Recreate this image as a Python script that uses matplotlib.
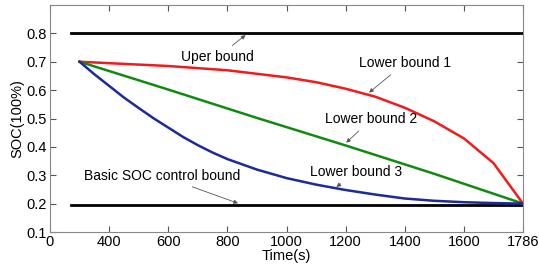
import matplotlib
matplotlib.use("Agg")
import matplotlib.pyplot as plt

plt.rcParams['font.family'] = ['Liberation Sans', 'DejaVu Sans']

# Data
t_bound = [270, 1800]
upper = [0.8, 0.8]
basic = [0.195, 0.195]

t1 = [300, 400, 600, 800, 1000, 1100, 1200, 1300, 1400, 1500, 1600, 1700, 1800]
lb1 = [0.70, 0.695, 0.685, 0.67, 0.645, 0.628, 0.605, 0.577, 0.538, 0.49, 0.43, 0.343, 0.20]

t2 = [300, 600, 900, 1200, 1500, 1800]
lb2 = [0.70, 0.602, 0.502, 0.405, 0.305, 0.20]

t3 = [300, 350, 400, 450, 500, 550, 600, 650, 700, 750, 800, 900, 1000, 1100, 1200,
      1300, 1400, 1500, 1600, 1700, 1800]
lb3 = [0.70, 0.656, 0.615, 0.574, 0.537, 0.501, 0.468, 0.435, 0.406, 0.38, 0.357,
       0.32, 0.29, 0.267, 0.248, 0.232, 0.218, 0.21, 0.205, 0.202, 0.20]

xticks = [200, 400, 600, 800, 1000, 1200, 1400, 1600, 1800]
xticklabels = ['0', '400', '600', '800', '1000', '1200', '1400', '1600', '1786']
yticks = [0.1, 0.2, 0.3, 0.4, 0.5, 0.6, 0.7, 0.8]

fig = plt.figure(figsize=(5.39, 2.67), dpi=100)
ax = fig.add_axes([50/539, 1-232/267, (523-50)/539, (232-5)/267])

ax.plot(t_bound, upper, color='black', lw=2)
ax.plot(t_bound, basic, color='black', lw=2)
ax.plot(t1, lb1, color='#ee1c1c', lw=1.8)
ax.plot(t2, lb2, color='#108a10', lw=1.8)
ax.plot(t3, lb3, color='#1c2a9a', lw=1.8)

ax.set_xlim(200, 1800)
ax.set_ylim(0.1, 0.9)
ax.set_xticks(xticks)
ax.set_xticklabels(xticklabels)
ax.set_yticks(yticks)
ax.set_yticklabels([f'{v:.1f}' for v in yticks])
ax.tick_params(direction='in', top=True, right=True, labelsize=10.5, length=4,
               color='#555555', pad=2)
for s in ax.spines.values():
    s.set_color('#888888')
    s.set_linewidth(0.8)

ax.set_xlabel('Time(s)', fontsize=10.5, labelpad=0)
ax.set_ylabel('SOC(100%)', fontsize=10.5, labelpad=2)

ap = dict(arrowstyle='-|>', color='#555555', lw=0.6, mutation_scale=6)
fs = 10
ax.annotate('Uper bound', xy=(869, 0.8), xytext=(767, 0.717), fontsize=fs,
            ha='center', va='center', arrowprops=ap)
ax.annotate('Lower bound 1', xy=(1272, 0.585), xytext=(1400, 0.695), fontsize=fs,
            ha='center', va='center', arrowprops=ap)
ax.annotate('Lower bound 2', xy=(1195, 0.408), xytext=(1287, 0.497), fontsize=fs,
            ha='center', va='center', arrowprops=ap)
ax.annotate('Lower bound 3', xy=(1161, 0.253), xytext=(1236, 0.31), fontsize=fs,
            ha='center', va='center', arrowprops=ap)
ax.annotate('Basic SOC control bound', xy=(845, 0.198), xytext=(580, 0.297), fontsize=fs,
            ha='center', va='center', arrowprops=ap)

fig.savefig('out.png', dpi=100)
